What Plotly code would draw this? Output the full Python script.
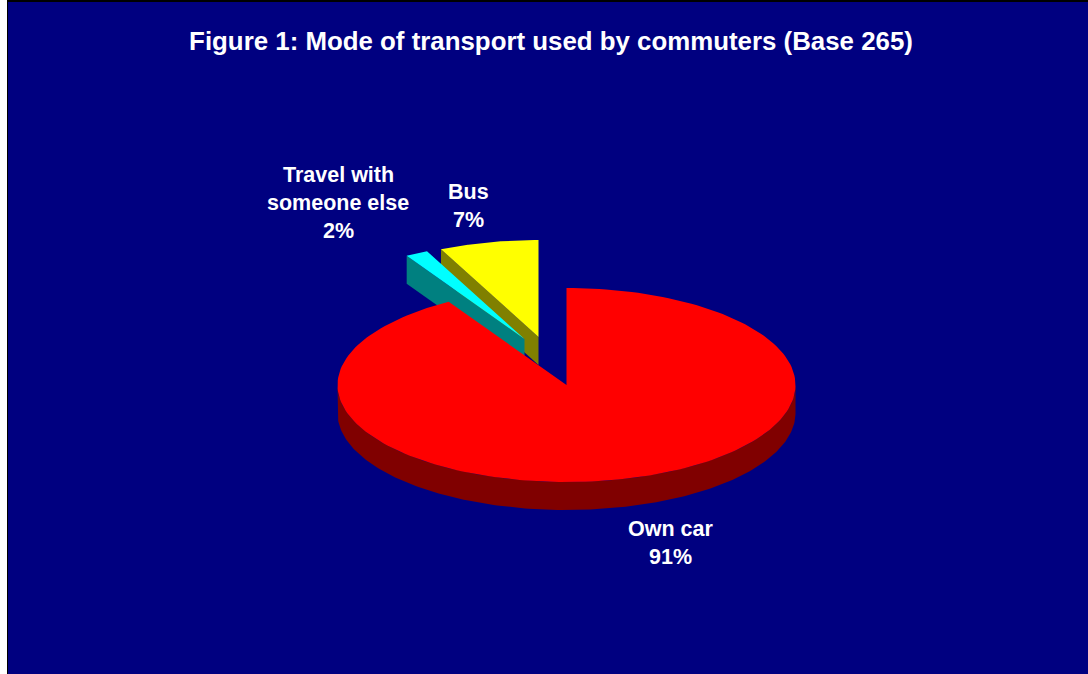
import numpy as np
import plotly.graph_objects as go

categories = ['Own car', 'Travel with someone else', 'Bus']
percent = [91.4, 1.6, 7.0]  # labels show them rounded
title = 'Figure 1: Mode of transport used by commuters (Base 265)'

# colours for top and side of each slice
top_colors = ['#ff0000', '#00ffff', '#ffff00']
side_colors = ['#800000', '#008080', '#808000']

# pie geometry in page pixels
cx, cy = 566.5, 385
rx, ry = 229, 97
depth = 28
offsets = [(0, 0), (-42, -46), (-28, -48)]
label_pos = [(670.5, 529), (338, 175), (468.5, 192)]
label_lines = [['Own car'], ['Travel with', 'someone else'], ['Bus']]
line_gap = 28.2


def rim(t0, t1, ox, oy, dz=0):
    t = np.radians(np.linspace(t0, t1, 200))
    return cx + ox + rx * np.sin(t), cy + oy + dz - ry * np.cos(t)


def poly(x, y, color):
    return go.Scatter(x=list(x), y=list(y), mode='lines', fill='toself', fillcolor=color,
                      line=dict(width=0, color=color), hoverinfo='skip', showlegend=False)


# slices run clockwise from 12 o'clock
ends = np.cumsum(percent) * 3.6
starts = ends - np.array(percent) * 3.6

fig = go.Figure()

# exploded slices first, bus at the back, main slice covers them
for i in [2, 1]:
    ox, oy = offsets[i]
    tipx, tipy = cx + ox, cy + oy
    x, y = rim(starts[i], ends[i], ox, oy)
    # cut face seen along the left edge
    fig.add_trace(poly([tipx, x[0], x[0], tipx], [tipy, y[0], y[0] + depth, tipy + depth], side_colors[i]))
    fig.add_trace(poly([tipx, *x], [tipy, *y], top_colors[i]))

# side of the main slice, front half only
x1, y1 = rim(90, 270, 0, 0)
x2, y2 = rim(270, 90, 0, 0, depth)
fig.add_trace(poly([*x1, *x2], [*y1, *y2], side_colors[0]))
x, y = rim(starts[0], ends[0], 0, 0)
fig.add_trace(poly([cx, *x], [cy, *y], top_colors[0]))

# labels, each line placed on its own to keep the chart's line spacing
for i, lines in enumerate(label_lines):
    lx, ly = label_pos[i]
    for j, txt in enumerate(lines + [f'{round(percent[i])}%']):
        fig.add_annotation(x=lx, y=ly + j * line_gap, text=f'<b>{txt}</b>', showarrow=False,
                           font=dict(family='Liberation Sans', size=21.5, color='white'))

fig.update_layout(
    width=1088, height=674,
    margin=dict(l=0, r=0, t=0, b=0),
    autosize=False,
    paper_bgcolor='white',
    plot_bgcolor='#000080',
    font=dict(family='Liberation Sans', color='white'),
    title=dict(text=f'<b>{title}</b>', x=551 / 1088, y=1 - 41 / 674, xanchor='center', yanchor='middle',
               font=dict(family='Liberation Sans', size=25.85, color='white')),
    shapes=[
        dict(type='rect', xref='x', yref='y', x0=0, x1=7, y0=0, y1=674, fillcolor='white', line_width=0, layer='below'),
        dict(type='rect', xref='x', yref='y', x0=7, x1=8, y0=0, y1=674, fillcolor='black', line_width=0, layer='below'),
        dict(type='rect', xref='x', yref='y', x0=7, x1=1088, y0=0, y1=2, fillcolor='black', line_width=0, layer='below'),
    ],
)
fig.update_xaxes(range=[0, 1088], visible=False, fixedrange=True)
fig.update_yaxes(range=[674, 0], visible=False, fixedrange=True)

# page default margin would push the chart 8px in
fig.write_html('out.html', config=dict(displayModeBar=False),
               post_script="document.body.style.margin='0';document.body.style.overflow='hidden';")
